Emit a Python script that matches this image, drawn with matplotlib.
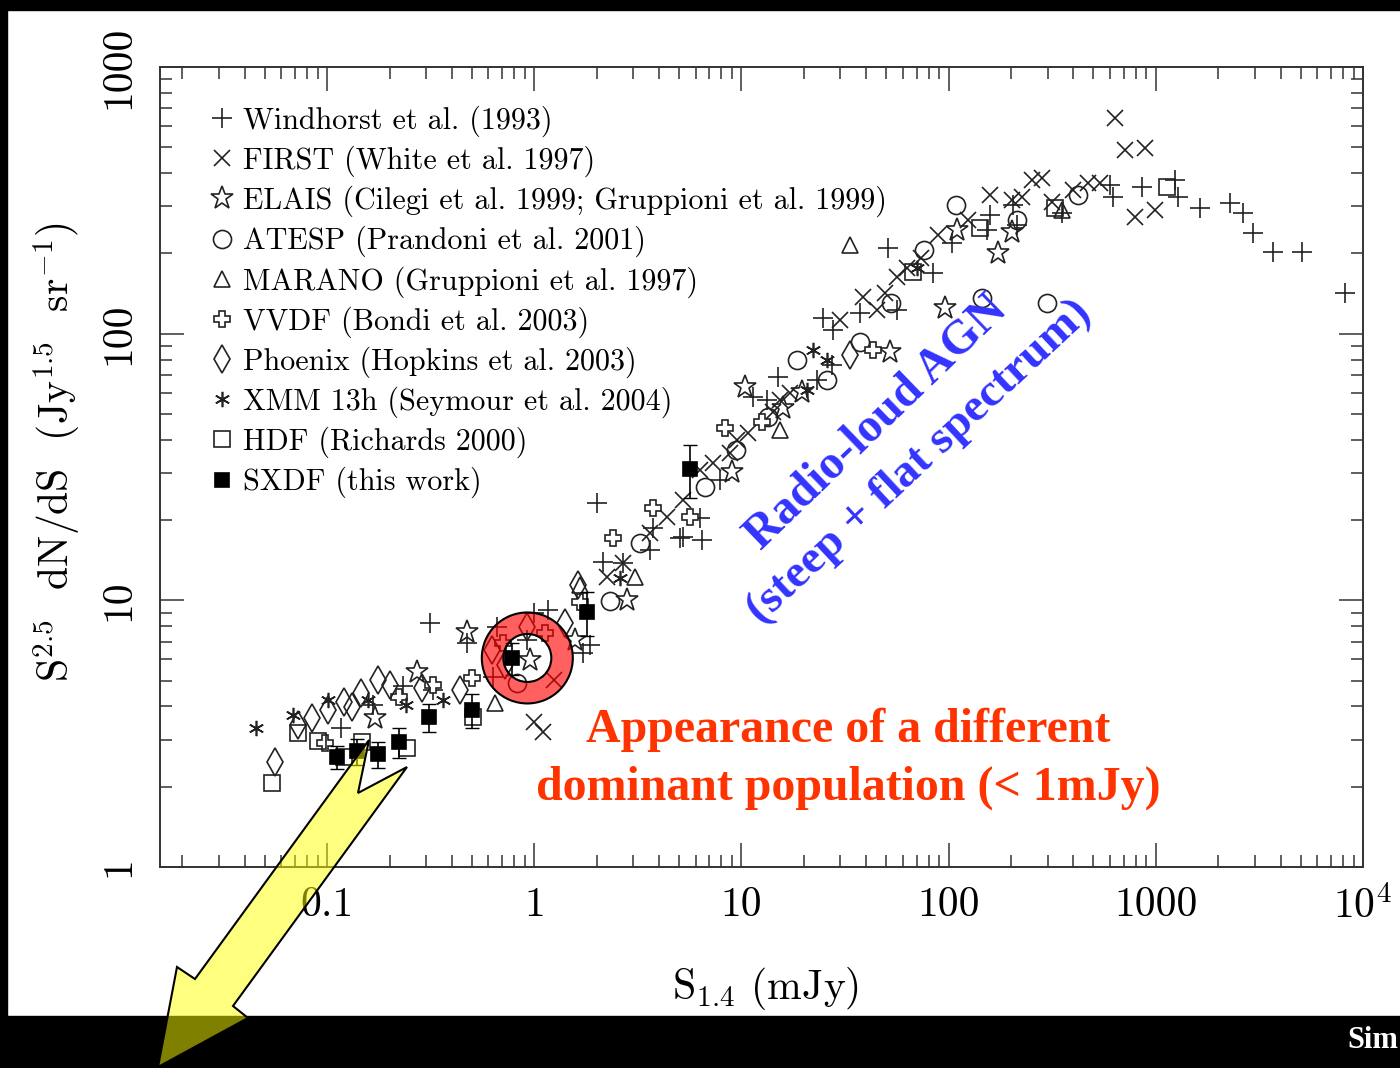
import matplotlib
matplotlib.use('Agg')
import matplotlib.pyplot as plt
from matplotlib import patches, transforms

plt.rcParams['font.family'] = 'cmr10'
plt.rcParams['mathtext.fontset'] = 'cm'
plt.rcParams['axes.formatter.use_mathtext'] = True

# ---- data (S in mJy, N = S^2.5 dN/dS) ----
windhorst_s = [0.116, 0.167, 0.233, 0.315, 0.475, 0.326, 2.01, 2.15, 2.69, 3.63, 5.06, 6.47, 6.32, 3.75,
               1.0, 1.16, 0.663, 1.72, 1.86, 0.634, 0.925, 24.8, 27.7, 37.4, 56.4, 15.0, 11.4, 13.3, 27.4,
               23.2, 7.89, 5.24, 51.1, 84.2, 104, 159, 153, 205, 214, 353, 601, 622, 859, 1240, 1280,
               1630, 2280, 2640, 2950, 3680, 5080, 8190]
windhorst_n = [3.32, 4.05, 4.77, 8.22, 6.92, 4.61, 23.2, 13.9, 13.8, 15.4, 17.1, 16.8, 20.4, 18.7,
               8.97, 9.2, 7.94, 6.35, 6.8, 5.16, 7.1, 114, 103, 120, 123, 68.8, 57.9, 56.4, 76.3,
               67, 28.3, 17.3, 210, 169, 219, 279, 245, 304, 256, 284, 361, 326, 355, 377, 326,
               296, 309, 284, 239, 202, 202, 142]

first_s = [636, 711, 887, 794, 991, 283, 253, 159, 226, 316, 399, 471, 538, 89, 124, 56.4, 63.1, 38.7,
           45.2, 29.9, 17.2, 15.4, 14.2, 10.7, 9.55, 8.83, 7.31, 6.32, 1.0, 1.1, 1.24, 2.25, 2.69, 3.63,
           4.38, 5.24, 49.4, 73.7, 202]
first_n = [644, 488, 497, 274, 291, 384, 377, 331, 326, 312, 346, 367, 367, 234, 267, 163, 176, 137,
           123, 113, 59.9, 56.4, 50.9, 42.4, 39.9, 35.7, 32.7, 30.8, 3.5, 3.21, 5.03, 12.2, 13.8, 17.9,
           20.5, 23.8, 142, 192, 317]

elais_s = [0.475, 0.272, 0.171, 1.58, 2.81, 10.4, 9.02, 15.9, 19.6, 52.2, 173, 96.2, 202, 110, 0.955]
elais_n = [7.6, 5.38, 3.62, 7.1, 10.0, 63, 30.3, 52.6, 60.4, 85.3, 201, 125, 241, 245, 5.97]

atesp_s = [2.33, 3.25, 9.44, 18.6, 25.9, 37.4, 52.8, 108, 76.2, 145, 214, 299, 422, 0.828, 13.5, 6.68]
atesp_n = [9.94, 16.4, 36.6, 79.7, 67, 93, 130, 304, 206, 136, 267, 130, 331, 4.9, 48.7, 26.6]

marano_s = [0.649, 3.07, 15.4, 33.5, 353, 1.67]
marano_n = [4.12, 12.2, 43.5, 215, 291, 11.4]

vvdf_s = [0.221, 0.326, 0.098, 0.502, 2.41, 3.75, 5.66, 1.67, 1.13, 0.708, 8.35, 12.6, 43.2]
vvdf_n = [4.34, 4.81, 2.92, 5.11, 17.1, 22.2, 20.5, 9.86, 7.54, 6.92, 44.3, 46.6, 86.8]

phoenix_s = [0.0562, 0.0727, 0.0849, 0.101, 0.12, 0.132, 0.145, 0.175, 0.202, 0.288, 0.44, 0.627,
             0.925, 1.41, 1.63, 33.5, 0.725]
phoenix_n = [2.48, 3.41, 3.62, 3.88, 4.16, 3.98, 4.49, 5.03, 4.81, 4.69, 4.61, 6.51,
             7.94, 8.22, 11.4, 83.2, 5.72]

xmm_s = [0.0451, 0.0687, 0.101, 0.158, 0.239, 0.364, 22.2, 25.9, 20.8, 70.5, 2.6]
xmm_n = [3.32, 3.72, 4.23, 4.23, 4.05, 4.23, 86.8, 79.7, 61.5, 176, 12.1]

hdf_s = [0.0544, 0.0727, 0.0908, 0.12, 0.148, 0.244, 0.508, 142, 67.4, 326, 1130]
hdf_n = [2.07, 3.18, 2.97, 2.59, 2.94, 2.79, 3.65, 249, 170, 296, 355]

sxdf_s = [0.112, 0.14, 0.175, 0.223, 0.311, 0.502, 0.783, 1.8, 5.66]
sxdf_n = [2.59, 2.72, 2.65, 2.94, 3.65, 3.88, 6.08, 9.04, 31.1]
sxdf_err = [0.25, 0.3, 0.3, 0.37, 0.43, 0.57, 0.84, 1.7, 7.0]

labels = ['Windhorst et al. (1993)',
          'FIRST (White et al. 1997)',
          'ELAIS (Cilegi et al. 1999; Gruppioni et al. 1999)',
          'ATESP (Prandoni et al. 2001)',
          'MARANO (Gruppioni et al. 1997)',
          'VVDF (Bondi et al. 2003)',
          'Phoenix (Hopkins et al. 2003)',
          'XMM 13h (Seymour et al. 2004)',
          'HDF (Richards 2000)',
          'SXDF (this work)']

xticks = [0.1, 1, 10, 100, 1000, 1e4]
xticklabels = ['0.1', '1', '10', '100', '1000', '$10^4$']
yticks = [1, 10, 100, 1000]
yticklabels = ['1', '10', '100', '1000']

ring_s, ring_n = 0.925, 6.08

# ---- figure ----
fig = plt.figure(figsize=(14, 10.68), dpi=100)
ax = fig.add_axes([160/1400, 201/1068, 1203/1400, 800/1068])
ax.set_xscale('log')
ax.set_yscale('log')
ax.set_xlim(0.0156, 1e4)
ax.set_ylim(1, 1000)

mc = '#222222'
lw = 1.2
h = []
h += ax.plot(windhorst_s, windhorst_n, ls='none', marker='+', ms=14, mew=lw, color=mc)
h += ax.plot(first_s, first_n, ls='none', marker='x', ms=11, mew=lw, color=mc)
h += ax.plot(elais_s, elais_n, ls='none', marker='*', ms=17, mew=lw, mfc='none', mec=mc)
h += ax.plot(atesp_s, atesp_n, ls='none', marker='o', ms=13, mew=lw, mfc='none', mec=mc)
h += ax.plot(marano_s, marano_n, ls='none', marker='^', ms=12, mew=lw, mfc='none', mec=mc)
h += ax.plot(vvdf_s, vvdf_n, ls='none', marker='P', ms=12, mew=lw, mfc='white', mec=mc)
h += ax.plot(phoenix_s, phoenix_n, ls='none', marker='d', ms=14, mew=lw, mfc='none', mec=mc)
h += ax.plot(xmm_s, xmm_n, ls='none', marker=(6, 2, 0), ms=11, mew=lw, color=mc)
h += ax.plot(hdf_s, hdf_n, ls='none', marker='s', ms=11, mew=lw, mfc='none', mec=mc)
ax.errorbar(sxdf_s, sxdf_n, yerr=sxdf_err, fmt='none', ecolor='black', elinewidth=lw, capsize=4.7)
h += ax.plot(sxdf_s, sxdf_n, ls='none', marker='s', ms=10, mew=lw, color='black')

ax.legend(h, labels, loc='upper left', bbox_to_anchor=(0.0412, 0.9519), frameon=False,
          fontsize=21.7, handlelength=0.8, handletextpad=0.3, labelspacing=0.287,
          borderpad=0, borderaxespad=0)

for sp in ax.spines.values():
    sp.set_linewidth(1.4)
    sp.set_color('#333333')
ax.tick_params(which='both', direction='in', top=True, right=True, color='#333333', width=1.1)
ax.tick_params(which='major', length=17)
ax.tick_params(which='minor', length=8.5)
ax.set_xticks(xticks, xticklabels)
ax.set_yticks(yticks, yticklabels)
ax.tick_params(axis='x', which='major', labelsize=30, pad=14)
ax.tick_params(axis='y', which='major', labelsize=30, pad=16, labelrotation=90)
for t in ax.get_yticklabels():
    t.set_va('center')

ax.set_xlabel('S$_{1.4}$ (mJy)', fontsize=30)
ax.xaxis.set_label_coords(0.503, -0.1225)
ax.set_ylabel('S$^{2.5}$  dN/dS  (Jy$^{1.5}$  sr$^{-1}$)', fontsize=30)
ax.yaxis.set_label_coords(-0.065, 0.519)

# highlight ring
ring_tr = fig.dpi_scale_trans + transforms.ScaledTranslation(ring_s, ring_n, ax.transData)
ring = patches.Annulus((0, 0), 0.455, 0.215, transform=ring_tr,
                       facecolor=(1, 0, 0, 0.62), edgecolor='black', linewidth=1.5, zorder=5)
ax.add_patch(ring)

# annotations
ax.text(0.572, 0.156, 'Appearance of a different', transform=ax.transAxes, ha='center', va='baseline',
        fontsize=34.5, fontweight='bold', family='Liberation Serif', color='#ff3300')
ax.text(0.572, 0.084, 'dominant population (< 1mJy)', transform=ax.transAxes, ha='center',
        va='baseline', fontsize=34.5, fontweight='bold', family='Liberation Serif', color='#ff3300')
ax.text(0.596, 0.555, 'Radio-loud AGN', transform=ax.transAxes, ha='center', va='center',
        rotation=44, rotation_mode='anchor', fontsize=34.5, fontweight='bold',
        family='Liberation Serif', color='#3333ff')
ax.text(0.631, 0.506, '(steep + flat spectrum)', transform=ax.transAxes, ha='center', va='center',
        rotation=43, rotation_mode='anchor', fontsize=34, fontweight='bold',
        family='Liberation Serif', color='#3333ff')

# slide frame: black strips
W, H = 1400, 1068
fig.patches.append(patches.Rectangle((0, 1 - 10/H), 1, 10/H, transform=fig.transFigure,
                                     color='black', zorder=1))
fig.patches.append(patches.Rectangle((0, 0), 7/W, 1, transform=fig.transFigure,
                                     color='black', zorder=1))
fig.patches.append(patches.Rectangle((0, 0), 1, 52/H, transform=fig.transFigure,
                                     color='black', zorder=1))
fig.text(1398/W, 28/H, 'Sim', color='white', fontsize=22, fontweight='bold',
         family='Liberation Serif', va='center', ha='right')

# big yellow notched arrow (pixel outline)
arrow_px = [(369, 740), (195, 979), (177, 967), (158, 1067), (248, 1018), (233, 1006),
            (407, 767), (358, 793)]
arrow_xy = [(x/W, 1 - y/H) for x, y in arrow_px]
fig.patches.append(patches.Polygon(arrow_xy, closed=True, transform=fig.transFigure,
                                   facecolor=(1, 1, 0, 0.5), edgecolor='black', linewidth=1.5,
                                   zorder=2))

fig.savefig('out.png', dpi=100)
